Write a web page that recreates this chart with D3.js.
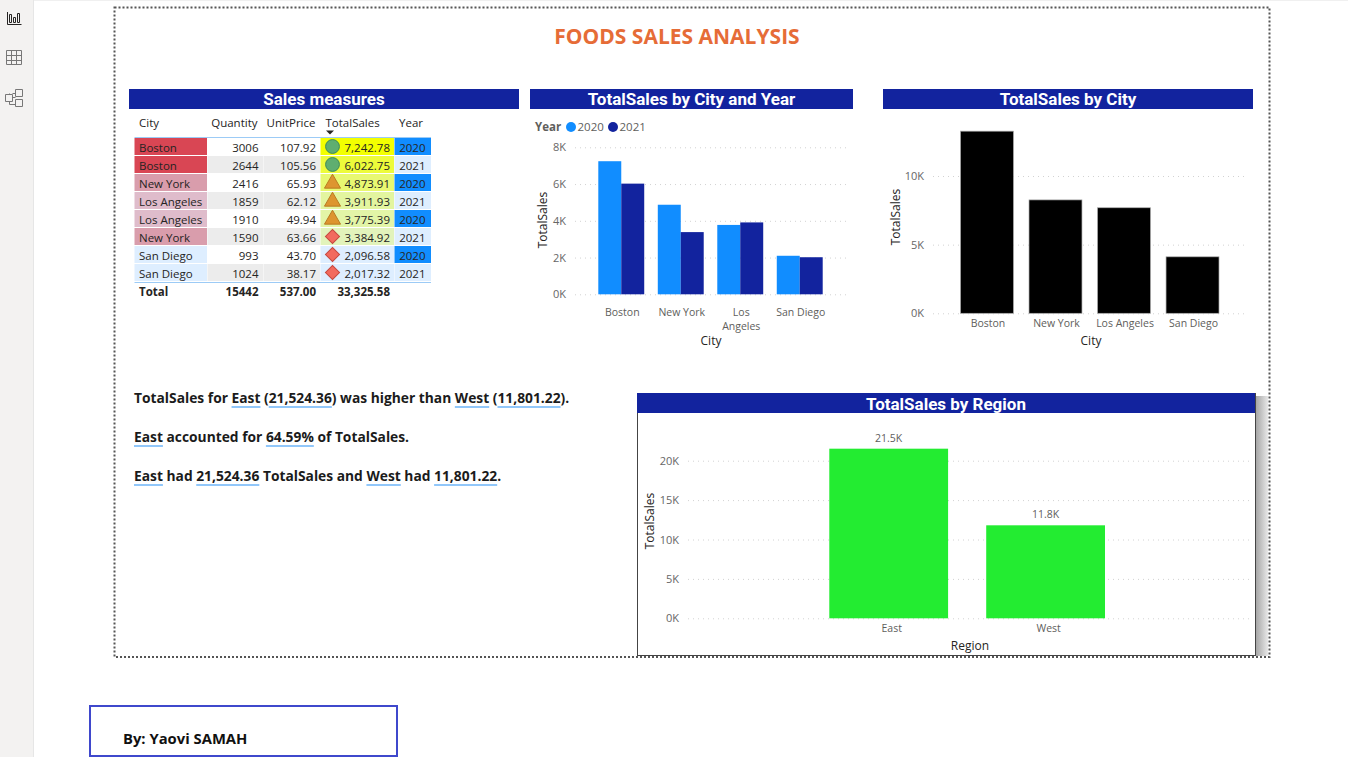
<!DOCTYPE html>
<html>
<head>
<meta charset="utf-8">
<script src="https://cdn.jsdelivr.net/npm/d3@7"></script>
<style>
  html, body { margin: 0; padding: 0; background: #fff; overflow: hidden; }
  svg { display: block; font-family: "Open Sans", sans-serif; }
  .grid, .cats { font-family: "Open Sans", sans-serif; }
  .grid .domain { display: none; }
  .grid line { stroke: #d2d2d2; stroke-dasharray: 1 4; }
  .grid text { fill: #666; font-size: 11px; }
  .cats .domain, .cats line { display: none; }
  .cats text { fill: #605e5c; font-size: 10.5px; }
  .axis-title { fill: #252423; font-size: 12px; text-anchor: middle; }
  .head-title { fill: #fff; font-family: Roboto, sans-serif; font-weight: 700; font-size: 17px; text-anchor: middle; }
  .cell { fill: #252423; font-size: 11.5px; }
  .story { fill: #1b1b1b; font-size: 13.8px; font-weight: 700; }
</style>
</head>
<body>
<svg id="page" width="1348" height="757"></svg>
<script>
// Table rows, already sorted by TotalSales like the report
const tableCity = ['Boston', 'Boston', 'New York', 'Los Angeles', 'Los Angeles', 'New York', 'San Diego', 'San Diego'];
const tableQuantity = [3006, 2644, 2416, 1859, 1910, 1590, 993, 1024];
const tableUnitPrice = [107.92, 105.56, 65.93, 62.12, 49.94, 63.66, 43.70, 38.17];
const tableSales = [7242.78, 6022.75, 4873.91, 3911.93, 3775.39, 3384.92, 2096.58, 2017.32];
const tableYear = [2020, 2021, 2020, 2021, 2020, 2021, 2020, 2021];
const tableColumns = ['City', 'Quantity', 'UnitPrice', 'TotalSales', 'Year'];
const tableTotals = ['Total', '15442', '537.00', '33,325.58', ''];

// Bar charts
const cities = ['Boston', 'New York', 'Los Angeles', 'San Diego'];
const years = ['2020', '2021'];
const sales2020 = [7242.78, 4873.91, 3775.39, 2096.58];
const sales2021 = [6022.75, 3384.92, 3911.93, 2017.32];
const cityTotals = [13265.53, 8258.83, 7687.32, 4113.90];
const regions = ['East', 'West'];
const regionSales = [21524.36, 11801.22];
const regionLabels = ['21.5K', '11.8K'];

const ticksYear = [0, 2000, 4000, 6000, 8000];
const ticksCity = [0, 5000, 10000];
const ticksRegion = [0, 5000, 10000, 15000, 20000];

// Narrative lines, the second item says whether the run is underlined
const storyLines = [
  [['TotalSales for ', 0], ['East', 1], [' (', 0], ['21,524.36', 1], [') was higher than ', 0], ['West', 1], [' (', 0], ['11,801.22', 1], [').', 0]],
  [['East', 1], [' accounted for ', 0], ['64.59%', 1], [' of TotalSales.', 0]],
  [['East', 1], [' had ', 0], ['21,524.36', 1], [' TotalSales and ', 0], ['West', 1], [' had ', 0], ['11,801.22', 1], ['.', 0]],
];

const navy = '#12239e';
const blue = '#118dff';
const svg = d3.select('#page');
const fmtK = (d) => `${d / 1000}K`;

// Left rail of the report
svg.append('rect').attr('width', 33).attr('height', 757).attr('fill', '#f3f2f1');
svg.append('line').attr('x1', 33.5).attr('x2', 33.5).attr('y2', 757).attr('stroke', '#e6e6e6');
svg.append('line').attr('x1', 34).attr('x2', 1348).attr('y1', 0.5).attr('y2', 0.5).attr('stroke', '#f0f0f0');
const rail = svg.append('g').attr('fill', 'none').attr('stroke-width', 1);
rail.append('path').attr('stroke', '#252423')
  .attr('d', 'M7.5 12v12.5h14M9.5 14.5h2v8h-2zM13.5 17.5h2v5h-2zM17.5 13.5h2v9h-2z');
rail.append('path').attr('stroke', '#777')
  .attr('d', 'M6.5 50.5h15v14h-15zM6.5 55.5h15M6.5 60.5h15M11.5 50.5v14M16.5 50.5v14');
rail.append('path').attr('stroke', '#777')
  .attr('d', 'M5.5 94.5h7v7h-7zM15.5 89.5h7v7h-7zM15.5 99.5h7v7h-7zM12.5 97.5h3M12.5 93.5h3M9.5 94.5v-1M9.5 101.5v3h6');

// Report title
svg.append('text').attr('x', 677).attr('y', 44).attr('text-anchor', 'middle')
  .attr('fill', '#e66c37').attr('font-size', 21).attr('font-weight', 700)
  .text('FOODS SALES ANALYSIS');

const header = (x0, x1, y, label, dy = 16) => {
  svg.append('rect').attr('x', x0).attr('y', y).attr('width', x1 - x0).attr('height', 20).attr('fill', navy);
  svg.append('text').attr('class', 'head-title').attr('x', (x0 + x1) / 2).attr('y', y + dy).text(label);
};
header(129, 519, 89, 'Sales measures');
header(530, 853, 89, 'TotalSales by City and Year');
header(883, 1253, 89, 'TotalSales by City');

// ---- Table ----
const colEdges = { City: [134.5, 207], Quantity: [207.5, 263.5], UnitPrice: [264, 320], TotalSales: [320.5, 394], Year: [394.5, 431] };
const rowY = d3.scaleBand().domain(d3.range(tableCity.length)).range([138, 282]);
const cityFill = d3.scaleOrdinal().domain(cities).range(['#d94654', '#d99dac', '#dfbccb', '#deeeff']);
const salesFill = d3.scaleLinear().domain([2100, 3900, 7242]).range(['#deeeff', '#e3f5a0', '#f3ff00']);
const yearFill = d3.scaleOrdinal().domain([2020, 2021]).range([blue, '#deeeff']);
const zebra = (i) => (i % 2 ? '#ececec' : '#fff');

const table = svg.append('g');
const cellRect = (col, fill) => table.append('g').selectAll('rect')
  .data(tableCity).join('rect')
  .attr('x', colEdges[col][0])
  .attr('y', (d, i) => rowY(i))
  .attr('width', colEdges[col][1] - colEdges[col][0])
  .attr('height', rowY.bandwidth() - 1)
  .attr('fill', fill);
cellRect('City', (d) => cityFill(d));
cellRect('Quantity', (d, i) => zebra(i));
cellRect('UnitPrice', (d, i) => zebra(i));
cellRect('TotalSales', (d, i) => salesFill(tableSales[i]));
cellRect('Year', (d, i) => yearFill(tableYear[i]));

const cellText = (values, x, anchor, fmt) => table.append('g').selectAll('text')
  .data(values).join('text')
  .attr('class', 'cell')
  .attr('x', x)
  .attr('y', (d, i) => rowY(i) + 13.5)
  .attr('text-anchor', anchor)
  .text(fmt);
cellText(tableCity, 139, 'start', (d) => d);
cellText(tableQuantity, 258.5, 'end', (d) => d);
cellText(tableUnitPrice, 316, 'end', (d) => d.toFixed(2));
cellText(tableSales, 390, 'end', d3.format(',.2f'));
cellText(tableYear, 425.5, 'end', (d) => d);

// Header row
const headerX = [139, 257.5, 315.5, 325.5, 399];
const headerAnchor = ['start', 'end', 'end', 'start', 'start'];
table.append('g').selectAll('text').data(tableColumns).join('text')
  .attr('class', 'cell')
  .attr('x', (d, i) => headerX[i]).attr('y', 127)
  .attr('text-anchor', (d, i) => headerAnchor[i])
  .text((d) => d);
table.append('path').attr('d', 'M326 130.5h8l-4 4z').attr('fill', '#252423');

// Rules above and below the body
[137.5, 282.5].forEach((y) => table.append('line')
  .attr('x1', 134.5).attr('x2', 431).attr('y1', y).attr('y2', y)
  .attr('stroke', '#9ccbf6').attr('stroke-width', 1));

// Total row
const totalX = [139, 258.5, 316, 390];
const totalAnchor = ['start', 'end', 'end', 'end'];
table.append('g').selectAll('text').data(tableTotals.slice(0, 4)).join('text')
  .attr('class', 'cell')
  .attr('x', (d, i) => totalX[i]).attr('y', 296)
  .attr('text-anchor', (d, i) => totalAnchor[i])
  .attr('font-weight', 700)
  .text((d) => d);

// KPI icons: three states by value
const iconState = d3.scaleThreshold().domain([3500, 4000]).range(['bad', 'mid', 'mid']);
const iconShape = {
  good: { type: d3.symbolCircle, size: 150, fill: '#5fae70', stroke: '#3f8a55', rot: 0, dy: 0 },
  mid: { type: d3.symbolTriangle, size: 112, fill: '#dd9530', stroke: '#b97a20', rot: 0, dy: 1 },
  bad: { type: d3.symbolSquare, size: 100, fill: '#f26a5e', stroke: '#c5493f', rot: 45, dy: 0 },
};
const iconOf = (d) => (d > 5000 ? iconShape.good : iconShape[iconState(d)]);
table.append('g').selectAll('path').data(tableSales).join('path')
  .attr('d', (d) => d3.symbol().type(iconOf(d).type).size(iconOf(d).size)())
  .attr('transform', (d, i) => {
    const s = iconOf(d);
    return `translate(332.5, ${rowY(i) + rowY.bandwidth() / 2 - 0.5 + s.dy}) rotate(${s.rot})`;
  })
  .attr('fill', (d) => iconOf(d).fill)
  .attr('stroke', (d) => iconOf(d).stroke);

// Shared bits of the three bar charts
const yGrid = (g, scale, ticks, xStart, xEnd, pad) => g.append('g')
  .attr('class', 'grid')
  .attr('transform', `translate(${xStart},0)`)
  .call(d3.axisLeft(scale).tickValues(ticks).tickFormat(fmtK).tickSizeInner(xStart - xEnd).tickSizeOuter(0).tickPadding(pad));

const axisTitle = (g, x, y, label, rotate) => g.append('text')
  .attr('class', 'axis-title')
  .attr('transform', `translate(${x},${y})${rotate ? ' rotate(-90)' : ''}`)
  .text(label);

// ---- TotalSales by City and Year ----
const chart1 = svg.append('g');
const x1 = d3.scaleBand().domain(cities).range([598.3, 822.7]).paddingInner(0.228);
const x1Year = d3.scaleBand().domain(years).range([0, x1.bandwidth()]);
const y1 = d3.scaleLinear().domain([0, 8000]).range([294.3, 147.3]);
yGrid(chart1, y1, ticksYear, 575, 847, 9);
[sales2020, sales2021].forEach((vals, k) => {
  chart1.append('g').selectAll('rect').data(vals).join('rect')
    .attr('x', (d, i) => x1(cities[i]) + x1Year(years[k]))
    .attr('y', (d) => y1(d))
    .attr('width', x1Year.bandwidth())
    .attr('height', (d) => y1(0) - y1(d))
    .attr('fill', k ? navy : blue);
});
const cat1 = chart1.append('g').attr('class', 'cats')
  .attr('transform', 'translate(1,308.5)')
  .call(d3.axisBottom(x1).tickSize(0).tickPadding(0));
// Los Angeles wraps on two lines in this narrow chart
cat1.selectAll('text').filter((d) => d === 'Los Angeles').text(null)
  .selectAll('tspan').data(['Los', 'Angeles']).join('tspan')
  .attr('x', 0).attr('dy', (d, i) => (i ? 14 : '0.71em')).text((d) => d);
axisTitle(chart1, 711, 345, 'City');
axisTitle(chart1, 547, 220, 'TotalSales', true);

// Legend
const legend = chart1.append('g');
legend.append('text').attr('x', 535).attr('y', 131).attr('font-size', 11.5).attr('font-weight', 700).attr('fill', '#605e5c').text('Year');
const legendX = d3.scaleOrdinal().domain(years).range([571, 613]);
legend.selectAll('circle').data(years).join('circle')
  .attr('cx', (d) => legendX(d)).attr('cy', 127).attr('r', 5)
  .attr('fill', (d, i) => (i ? navy : blue));
legend.selectAll('text.lab').data(years).join('text')
  .attr('class', 'lab')
  .attr('x', (d) => legendX(d) + 6.5).attr('y', 131)
  .attr('font-size', 11.5).attr('fill', '#605e5c').text((d) => d);

// ---- TotalSales by City ----
const chart2 = svg.append('g');
const x2 = d3.scaleBand().domain(cities).range([960.5, 1219]).paddingInner(0.227);
const y2 = d3.scaleLinear().domain([0, 10000]).range([313.3, 176]);
yGrid(chart2, y2, ticksCity, 933, 1248, 9);
chart2.append('g').selectAll('rect').data(cityTotals).join('rect')
  .attr('x', (d, i) => x2(cities[i]))
  .attr('y', (d) => y2(d))
  .attr('width', x2.bandwidth())
  .attr('height', (d) => y2(0) - y2(d))
  .attr('fill', '#000')
  .attr('stroke', '#aaa').attr('stroke-width', 0.7);
chart2.append('g').attr('class', 'cats')
  .attr('transform', 'translate(1,319.5)')
  .call(d3.axisBottom(x2).tickSize(0).tickPadding(0));
axisTitle(chart2, 1091, 345, 'City');
axisTitle(chart2, 900, 217, 'TotalSales', true);

// ---- Narrative ----
const story = svg.append('g');
storyLines.forEach((runs, li) => {
  const y = 403 + li * 39;
  let x = 134;
  runs.forEach(([s, under]) => {
    const t = story.append('text').attr('class', 'story').attr('x', x).attr('y', y)
      .attr('xml:space', 'preserve').style('white-space', 'pre').text(s);
    const w = t.node().getComputedTextLength();
    if (under) {
      story.append('line').attr('x1', x).attr('x2', x + w).attr('y1', y + 4).attr('y2', y + 4)
        .attr('stroke', '#6cb4f8').attr('stroke-width', 1.5);
    }
    x += w;
  });
});

// ---- TotalSales by Region, it sits on its own card with a shadow ----
const defs = svg.append('defs');
const fade = defs.append('linearGradient').attr('id', 'cardShadow');
fade.append('stop').attr('offset', 0).attr('stop-color', '#a6a6a6');
fade.append('stop').attr('offset', 1).attr('stop-color', '#e8e8e8');
svg.append('rect').attr('x', 1256).attr('y', 396).attr('width', 12).attr('height', 260).attr('fill', 'url(#cardShadow)');
svg.append('rect').attr('x', 637.5).attr('y', 393.5).attr('width', 618).attr('height', 262)
  .attr('fill', '#fff').attr('stroke', '#444');
header(637, 1255, 393, 'TotalSales by Region', 17);

const chart3 = svg.append('g');
const x3 = d3.scaleBand().domain(regions).range([829.3, 1105]).paddingInner(0.243);
const y3 = d3.scaleLinear().domain([0, 20000]).range([618.3, 460.7]);
yGrid(chart3, y3, ticksRegion, 688, 1252, 9);
chart3.append('g').selectAll('rect').data(regionSales).join('rect')
  .attr('x', (d, i) => x3(regions[i]))
  .attr('y', (d) => y3(d))
  .attr('width', x3.bandwidth())
  .attr('height', (d) => y3(0) - y3(d))
  .attr('fill', '#23ec31');
chart3.append('g').selectAll('text').data(regionLabels).join('text')
  .attr('x', (d, i) => x3(regions[i]) + x3.bandwidth() / 2)
  .attr('y', (d, i) => y3(regionSales[i]) - 7)
  .attr('text-anchor', 'middle').attr('font-size', 10.5).attr('fill', '#605e5c')
  .text((d) => d);
chart3.append('g').attr('class', 'cats')
  .attr('transform', 'translate(3,625)')
  .call(d3.axisBottom(x3).tickSize(0).tickPadding(0));
axisTitle(chart3, 970, 650, 'Region');
axisTitle(chart3, 654, 521, 'TotalSales', true);

// Dotted frame goes last, the shadow runs up against it
svg.append('rect').attr('x', 114.5).attr('y', 7.5).attr('width', 1155).attr('height', 649.5)
  .attr('fill', 'none').attr('stroke', '#555').attr('stroke-width', 2).attr('stroke-dasharray', '2 2');

// Signature box
svg.append('rect').attr('x', 90).attr('y', 706).attr('width', 307).attr('height', 50)
  .attr('fill', '#fff').attr('stroke', '#3f48cc').attr('stroke-width', 2);
svg.append('text').attr('x', 123).attr('y', 744).attr('font-size', 14.8).attr('font-weight', 700)
  .attr('fill', '#111').text('By: Yaovi SAMAH');
</script>
</body>
</html>
